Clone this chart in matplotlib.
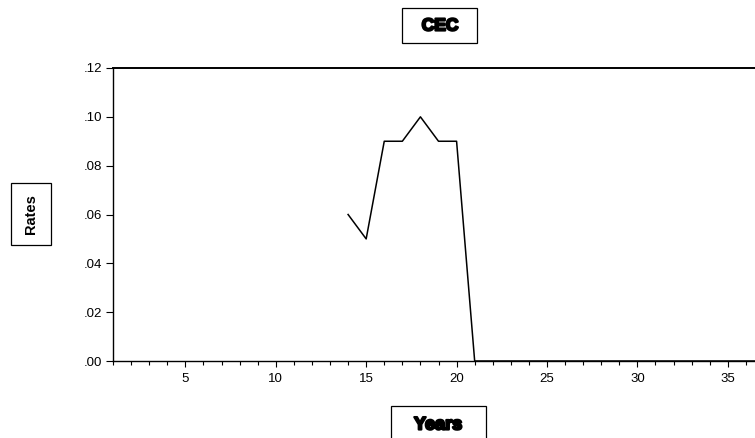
import matplotlib.pyplot as plt
import matplotlib.patheffects as pe
from matplotlib.patches import Rectangle
from matplotlib.ticker import FuncFormatter, MultipleLocator

# CEC rates by year
years = list(range(14, 38))
rates = [0.06, 0.05, 0.09, 0.09, 0.10, 0.09, 0.09, 0.00] + [0.00] * 16
yticks = [0.00, 0.02, 0.04, 0.06, 0.08, 0.10, 0.12]
xticks = [5, 10, 15, 20, 25, 30, 35]

plt.rcParams['font.family'] = ['Liberation Sans', 'DejaVu Sans']

W, H = 755, 438
fig = plt.figure(figsize=(W / 100, H / 100), dpi=100)
ax = fig.add_axes([113 / W, 1 - 361 / H, 651 / W, 293 / H])

ax.plot(years, rates, color='black', linewidth=1.1, clip_on=False)

ax.set_xlim(1, 37)
ax.set_ylim(0, 0.12)
ax.set_xticks(xticks)
ax.xaxis.set_minor_locator(MultipleLocator(1))
ax.set_yticks(yticks)
ax.yaxis.set_major_formatter(FuncFormatter(lambda v, p: ('%.2f' % v)[1:]))

ax.tick_params(axis='x', which='major', direction='out', length=4, width=0.8,
               labelsize=9.5, pad=5)
ax.tick_params(axis='x', which='minor', direction='out', length=3, width=0.8)
ax.tick_params(axis='y', direction='out', length=5, width=0.8, labelsize=9.5, pad=3)

for s in ['left', 'bottom']:
    ax.spines[s].set_linewidth(1.0)
ax.spines['top'].set_linewidth(1.4)
ax.spines['right'].set_visible(False)


def box(x0, y0, x1, y1):
    # pixel box, y measured from the top
    fig.patches.append(Rectangle((x0 / W, 1 - y1 / H), (x1 - x0) / W, (y1 - y0) / H,
                                 transform=fig.transFigure, facecolor='white',
                                 edgecolor='black', linewidth=0.9))


heavy = [pe.withStroke(linewidth=1.6, foreground='black')]

box(402, 8, 477, 43)
fig.text(440 / W, 1 - 26 / H, 'CEC', ha='center', va='center',
         fontsize=12.5, fontweight='bold', path_effects=heavy)

box(391, 406, 486, 445)
fig.text(438 / W, 1 - 425 / H, 'Years', ha='center', va='center',
         fontsize=13, fontweight='bold', path_effects=heavy)

box(11, 183, 51, 245)
fig.text(31 / W, 1 - 214 / H, 'Rates', ha='center', va='center', rotation=90,
         fontsize=10.5, fontweight='bold')

fig.savefig('out.png', dpi=100)
